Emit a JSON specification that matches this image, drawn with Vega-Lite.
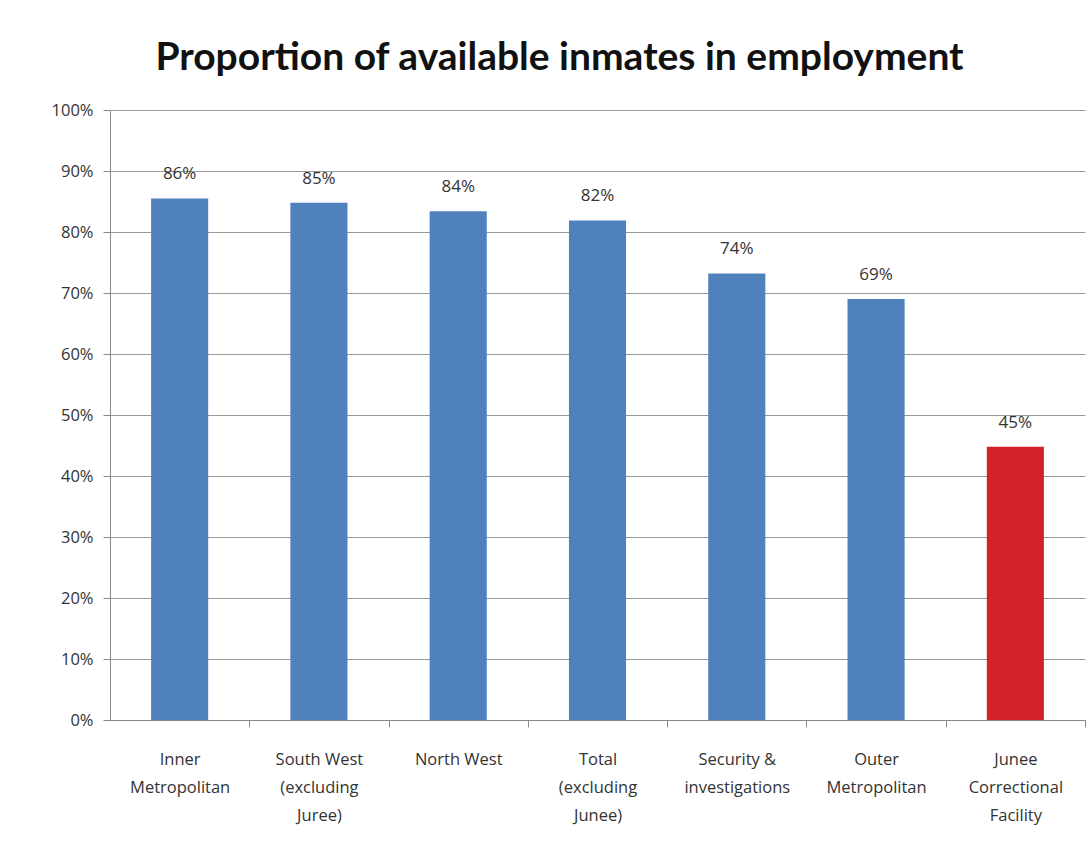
{
  "$schema": "https://vega.github.io/schema/vega-lite/v6.json",
  "autosize": "none",
  "width": 975,
  "height": 610,
  "padding": {"left": 110, "top": 110, "right": 5, "bottom": 127},
  "background": "white",
  "title": {
    "text": "Proportion of available inmates in employment",
    "font": "Lato",
    "fontSize": 39,
    "fontWeight": "bold",
    "color": "#111111",
    "anchor": "middle",
    "dx": -38,
    "offset": 24
  },
  "data": {
    "values": [
      {"region": "Inner|Metropolitan", "value": 0.855, "label": "86%", "group": "other"},
      {"region": "South West|(excluding|Juree)", "value": 0.848, "label": "85%", "group": "other"},
      {"region": "North West", "value": 0.834, "label": "84%", "group": "other"},
      {"region": "Total|(excluding|Junee)", "value": 0.819, "label": "82%", "group": "other"},
      {"region": "Security &|investigations", "value": 0.732, "label": "74%", "group": "other"},
      {"region": "Outer|Metropolitan", "value": 0.69, "label": "69%", "group": "other"},
      {"region": "Junee|Correctional|Facility", "value": 0.448, "label": "45%", "group": "junee"}
    ]
  },
  "encoding": {
    "x": {
      "field": "region",
      "type": "nominal",
      "sort": null,
      "title": null,
      "scale": {"paddingInner": 0.59, "paddingOuter": 0.295},
      "axis": {
        "labelExpr": "split(datum.value, '|')",
        "labelAngle": 0,
        "labelFont": "Open Sans",
        "labelFontSize": 16.5,
        "labelColor": "#333333",
        "labelLineHeight": 28,
        "labelPadding": 24,
        "labelOverlap": false,
        "tickOffset": 69.6,
        "labelOffset": -69.6,
        "tickSize": 7,
        "tickColor": "#888888",
        "domainColor": "#888888",
        "grid": false
      }
    },
    "y": {
      "field": "value",
      "type": "quantitative",
      "title": null,
      "scale": {"domain": [0, 1], "nice": false},
      "axis": {
        "format": ".0%",
        "values": [0, 0.1, 0.2, 0.3, 0.4, 0.5, 0.6, 0.7, 0.8, 0.9, 1],
        "labelOverlap": false,
        "labelFont": "Open Sans",
        "labelFontSize": 16.5,
        "labelColor": "#333333",
        "labelPadding": 10,
        "tickSize": 7,
        "tickColor": "#888888",
        "domainColor": "#888888",
        "gridColor": "#999999",
        "gridWidth": 1
      }
    }
  },
  "layer": [
    {
      "mark": {"type": "bar"},
      "encoding": {
        "color": {
          "field": "group",
          "type": "nominal",
          "scale": {"domain": ["other", "junee"], "range": ["#4F81BD", "#D2232A"]},
          "legend": null
        }
      }
    },
    {
      "mark": {"type": "text", "dy": -15, "font": "Open Sans", "fontSize": 17, "color": "#333333", "baseline": "bottom"},
      "encoding": {
        "text": {"field": "label"}
      }
    }
  ],
  "config": {
    "view": {"stroke": null}
  }
}
